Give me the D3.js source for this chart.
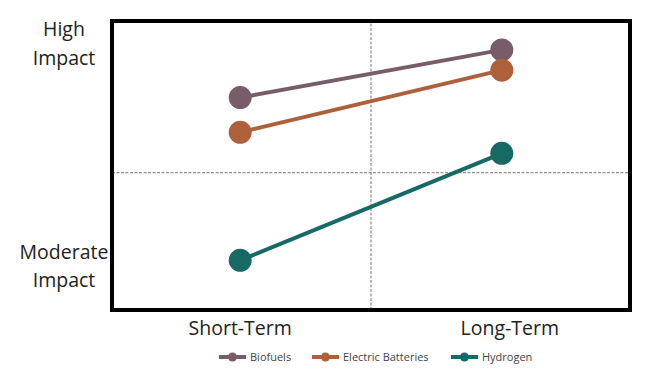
<!DOCTYPE html>
<html>
<head>
<meta charset="utf-8">
<script src="https://cdn.jsdelivr.net/npm/d3@7"></script>
<style>
  body { margin: 0; background: #fff; }
  text { font-family: "Open Sans", "Noto Sans", sans-serif; fill: #222; }
</style>
</head>
<body>
<div id="chart"></div>
<script>
// horizons on the x axis
const horizons = ['Short-Term', 'Long-Term'];
// series and their impact scores (0 = low, 10 = high)
const seriesNames = ['Biofuels', 'Electric Batteries', 'Hydrogen'];
const seriesColors = ['#785c69', '#ae603b', '#166964'];
const biofuels = [7.35, 9.0];
const electricBatteries = [6.15, 8.3];
const hydrogen = [1.72, 5.42];
// quadrant split and y-axis category labels
const midImpact = 4.75;
const yLabels = [['High', 'Impact'], ['Moderate', 'Impact']];
const yLabelValues = [9.2, 1.5];

const width = 650, height = 374;
const margin = { top: 21, right: 20, bottom: 64, left: 112 };

const svg = d3.select('#chart').append('svg')
  .attr('width', width)
  .attr('height', height);

const x = d3.scalePoint()
  .domain(horizons)
  .range([margin.left, width - margin.right])
  .padding(0.49);

const y = d3.scaleLinear()
  .domain([0, 10])
  .range([height - margin.bottom, margin.top]);

const data = seriesNames.map((name, i) => ({
  name,
  color: seriesColors[i],
  values: [biofuels, electricBatteries, hydrogen][i]
}));

// quadrant guides
svg.append('line')
  .attr('x1', x.range()[0]).attr('x2', x.range()[1])
  .attr('y1', y(midImpact)).attr('y2', y(midImpact))
  .attr('stroke', '#777').attr('stroke-width', 1)
  .attr('stroke-dasharray', '3,1.5');

const xMid = (x(horizons[0]) + x(horizons[1])) / 2;
svg.append('line')
  .attr('x1', xMid).attr('x2', xMid)
  .attr('y1', y.range()[0]).attr('y2', y.range()[1])
  .attr('stroke', '#777').attr('stroke-width', 1)
  .attr('stroke-dasharray', '3,1.5');

// series lines + points
const line = d3.line()
  .x((d, i) => x(horizons[i]))
  .y(d => y(d));

const g = svg.append('g');
g.selectAll('path')
  .data(data)
  .join('path')
  .attr('d', d => line(d.values))
  .attr('fill', 'none')
  .attr('stroke', d => d.color)
  .attr('stroke-width', 4);

data.forEach(s => {
  g.selectAll(null)
    .data(s.values)
    .join('circle')
    .attr('cx', (d, i) => x(horizons[i]))
    .attr('cy', d => y(d))
    .attr('r', 11.5)
    .attr('fill', s.color);
});

// frame
svg.append('rect')
  .attr('x', x.range()[0]).attr('y', y.range()[1])
  .attr('width', x.range()[1] - x.range()[0])
  .attr('height', y.range()[0] - y.range()[1])
  .attr('fill', 'none')
  .attr('stroke', '#000')
  .attr('stroke-width', 4);

// x labels
svg.selectAll('.xlab')
  .data(horizons)
  .join('text')
  .attr('class', 'xlab')
  .attr('x', (d, i) => x(d) + (i === 1 ? 8 : 0))
  .attr('y', 335)
  .attr('text-anchor', 'middle')
  .style('font-size', '19.5px')
  .text(d => d);

// y labels (two lines each)
yLabels.forEach((lines, i) => {
  const t = svg.append('text')
    .attr('x', 64)
    .attr('y', y(yLabelValues[i]))
    .attr('text-anchor', 'middle')
    .style('font-size', '19.5px');
  lines.forEach((l, j) => {
    t.append('tspan')
      .attr('x', 64)
      .attr('dy', j === 0 ? '-0.4em' : '1.45em')
      .text(l);
  });
});

// legend
const legendX = [219, 312, 451];
const legend = svg.append('g').attr('transform', 'translate(0,357)');
data.forEach((s, i) => {
  const lg = legend.append('g').attr('transform', `translate(${legendX[i]},0)`);
  lg.append('line')
    .attr('x1', 0).attr('x2', 27)
    .attr('stroke', s.color).attr('stroke-width', 4);
  lg.append('circle')
    .attr('cx', 13.5).attr('r', 4.5)
    .attr('fill', s.color);
  lg.append('text')
    .attr('x', 31)
    .attr('dy', '0.35em')
    .style('font-size', '11px')
    .style('fill', '#444')
    .text(s.name);
});
</script>
</body>
</html>
